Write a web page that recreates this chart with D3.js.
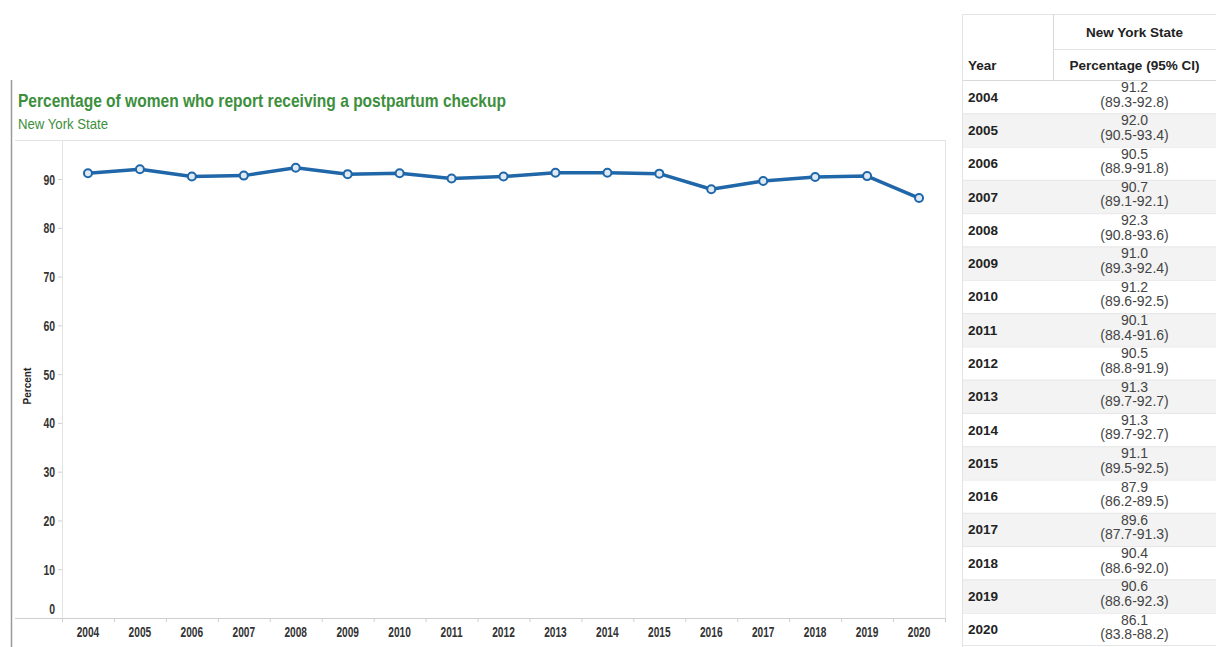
<!DOCTYPE html>
<html>
<head>
<meta charset="utf-8">
<script src="https://cdn.jsdelivr.net/npm/d3@7"></script>
<style>
  body { margin: 0; background: #fff; }
  svg { display: block; }
  .narrow { font-family: "Liberation Sans Narrow", "Arial Narrow", "Liberation Sans", Arial, sans-serif; }
  .sans { font-family: "Liberation Sans", Arial, sans-serif; }
</style>
</head>
<body>
<div id="chart"></div>
<script>
// Chart data
const years = ["2004", "2005", "2006", "2007", "2008", "2009", "2010", "2011", "2012",
  "2013", "2014", "2015", "2016", "2017", "2018", "2019", "2020"];
const percent = [91.2, 92.0, 90.5, 90.7, 92.3, 91.0, 91.2, 90.1, 90.5, 91.3, 91.3, 91.1, 87.9, 89.6, 90.4, 90.6, 86.1];
const ciLow = [89.3, 90.5, 88.9, 89.1, 90.8, 89.3, 89.6, 88.4, 88.8, 89.7, 89.7, 89.5, 86.2, 87.7, 88.6, 88.6, 83.8];
const ciHigh = [92.8, 93.4, 91.8, 92.1, 93.6, 92.4, 92.5, 91.6, 91.9, 92.7, 92.7, 92.5, 89.5, 91.3, 92.0, 92.3, 88.2];
const yTicks = [0, 10, 20, 30, 40, 50, 60, 70, 80, 90];

const WIDTH = 1216;
const HEIGHT = 647;
const GREEN = "#3d8f3d";
const BLUE = "#1f67a8";

const svg = d3.select("#chart")
  .append("svg")
  .attr("width", WIDTH)
  .attr("height", HEIGHT);

// squeeze text to look like a condensed face (no Arial Narrow here)
function condense(sel, k) {
  sel.each(function () {
    const w = this.getComputedTextLength();
    d3.select(this).attr("textLength", w * k).attr("lengthAdjust", "spacingAndGlyphs");
  });
}

// Plot frame
const plot = { left: 62, right: 945, top: 140, bottom: 618 };

const x = d3.scaleBand().domain(years).range([plot.left, plot.right]);
const y = d3.scaleLinear().domain([0, 98]).range([plot.bottom, plot.top]);

// outer left rule of the worksheet
svg.append("line")
  .attr("x1", 11.5).attr("x2", 11.5).attr("y1", 80).attr("y2", HEIGHT)
  .attr("stroke", "#9a9a9a").attr("stroke-width", 1.5);

// Title
svg.append("text")
  .attr("class", "narrow")
  .attr("x", 18).attr("y", 107)
  .attr("font-size", 19).attr("font-weight", "bold")
  .attr("fill", GREEN)
  .text("Percentage of women who report receiving a postpartum checkup")
  .attr("textLength", 488).attr("lengthAdjust", "spacingAndGlyphs");

svg.append("text")
  .attr("class", "narrow")
  .attr("x", 18).attr("y", 129)
  .attr("font-size", 15)
  .attr("fill", GREEN)
  .text("New York State")
  .attr("textLength", 90).attr("lengthAdjust", "spacingAndGlyphs");

// frame lines
svg.append("line")
  .attr("x1", 15).attr("x2", plot.right).attr("y1", plot.top + 0.5).attr("y2", plot.top + 0.5)
  .attr("stroke", "#e3e3e3");
svg.append("line")
  .attr("x1", plot.right + 0.5).attr("x2", plot.right + 0.5).attr("y1", plot.top).attr("y2", plot.bottom)
  .attr("stroke", "#e3e3e3");
svg.append("line")
  .attr("x1", plot.left + 0.5).attr("x2", plot.left + 0.5).attr("y1", plot.top).attr("y2", plot.bottom)
  .attr("stroke", "#e3e3e3");

// Y axis
const yAxis = svg.append("g")
  .attr("class", "narrow")
  .attr("transform", "translate(" + plot.left + ",0)")
  .call(d3.axisLeft(y).tickValues(yTicks).tickSize(4).tickPadding(3));
yAxis.select(".domain").remove();
yAxis.selectAll(".tick line").attr("stroke", "#d0d0d0");
yAxis.selectAll(".tick text")
  .attr("font-size", 14.5).attr("font-weight", "bold").attr("fill", "#333")
  .attr("dy", (d) => (d === 0 ? "-0.3em" : "0.35em"))
  .call(condense, 0.72);

svg.append("text")
  .attr("class", "sans")
  .attr("transform", "translate(31," + (y(50) + 12) + ") rotate(-90)")
  .attr("text-anchor", "middle")
  .attr("font-size", 10).attr("font-weight", "bold").attr("fill", "#222")
  .text("Percent");

// X axis
svg.append("line")
  .attr("x1", 15).attr("x2", plot.right).attr("y1", plot.bottom + 0.5).attr("y2", plot.bottom + 0.5)
  .attr("stroke", "#cfcfcf");

const xg = svg.append("g").attr("class", "narrow");
xg.selectAll("line")
  .data(years.concat(["end"]))
  .enter()
  .append("line")
  .attr("x1", (d, i) => plot.left + i * x.step() + 0.5)
  .attr("x2", (d, i) => plot.left + i * x.step() + 0.5)
  .attr("y1", plot.bottom).attr("y2", plot.bottom + 4)
  .attr("stroke", "#cfcfcf");
xg.selectAll("text")
  .data(years)
  .enter()
  .append("text")
  .attr("x", (d) => x(d) + x.bandwidth() / 2)
  .attr("y", 637)
  .attr("text-anchor", "middle")
  .attr("font-size", 14.5).attr("font-weight", "bold").attr("fill", "#333")
  .text((d) => d)
  .call(condense, 0.7);

// Line
const line = d3.line()
  .x((d, i) => x(years[i]) + x.bandwidth() / 2)
  .y((d) => y(d));

svg.append("path")
  .datum(percent)
  .attr("d", line)
  .attr("fill", "none")
  .attr("stroke", BLUE)
  .attr("stroke-width", 3.5)
  .attr("stroke-linejoin", "round");

svg.append("g")
  .selectAll("circle")
  .data(percent)
  .enter()
  .append("circle")
  .attr("cx", (d, i) => x(years[i]) + x.bandwidth() / 2)
  .attr("cy", (d) => y(d))
  .attr("r", 4)
  .attr("fill", "#dfeaf5")
  .attr("stroke", BLUE)
  .attr("stroke-width", 2);

// Table
const tbl = { left: 962, right: WIDTH, top: 14, head1: 49, head2: 80, colSplit: 1053 };
const rowY = d3.scaleBand().domain(years).range([tbl.head2, HEIGHT - 1]);
const valueX = (tbl.colSplit + tbl.right) / 2;

const tg = svg.append("g").attr("class", "sans");

tg.selectAll("rect")
  .data(years)
  .enter()
  .append("rect")
  .attr("x", tbl.left).attr("y", (d) => rowY(d))
  .attr("width", tbl.right - tbl.left).attr("height", rowY.bandwidth())
  .attr("fill", (d, i) => (i % 2 ? "#f3f3f3" : "#fff"));

tg.selectAll("line.row")
  .data(years)
  .enter()
  .append("line")
  .attr("class", "row")
  .attr("x1", tbl.left).attr("x2", tbl.right)
  .attr("y1", (d) => rowY(d) + 0.5).attr("y2", (d) => rowY(d) + 0.5)
  .attr("stroke", "#e6e6e6");

tg.append("line")
  .attr("x1", tbl.left).attr("x2", tbl.right)
  .attr("y1", HEIGHT - 1.5).attr("y2", HEIGHT - 1.5)
  .attr("stroke", "#e6e6e6");
tg.append("line")
  .attr("x1", tbl.left).attr("x2", tbl.right)
  .attr("y1", tbl.top + 0.5).attr("y2", tbl.top + 0.5)
  .attr("stroke", "#e3e3e3");
tg.append("line")
  .attr("x1", tbl.colSplit).attr("x2", tbl.right)
  .attr("y1", tbl.head1 + 0.5).attr("y2", tbl.head1 + 0.5)
  .attr("stroke", "#e3e3e3");
tg.append("line")
  .attr("x1", tbl.left).attr("x2", tbl.right)
  .attr("y1", tbl.head2 + 0.5).attr("y2", tbl.head2 + 0.5)
  .attr("stroke", "#d8d8d8");
tg.append("line")
  .attr("x1", tbl.left + 0.5).attr("x2", tbl.left + 0.5)
  .attr("y1", tbl.top).attr("y2", HEIGHT)
  .attr("stroke", "#e3e3e3");
tg.append("line")
  .attr("x1", tbl.colSplit + 0.5).attr("x2", tbl.colSplit + 0.5)
  .attr("y1", tbl.top).attr("y2", tbl.head2)
  .attr("stroke", "#d8d8d8");

tg.append("text")
  .attr("x", valueX).attr("y", 37)
  .attr("text-anchor", "middle")
  .attr("font-size", 13.5).attr("font-weight", "bold").attr("fill", "#222")
  .text("New York State");
tg.append("text")
  .attr("x", valueX).attr("y", 70)
  .attr("text-anchor", "middle")
  .attr("font-size", 13.5).attr("font-weight", "bold").attr("fill", "#222")
  .text("Percentage (95% CI)");
tg.append("text")
  .attr("x", 968).attr("y", 70)
  .attr("font-size", 13.5).attr("font-weight", "bold").attr("fill", "#222")
  .text("Year");

tg.selectAll("text.year")
  .data(years)
  .enter()
  .append("text")
  .attr("class", "year")
  .attr("x", 968)
  .attr("y", (d) => rowY(d) + rowY.bandwidth() / 2 + 5)
  .attr("font-size", 13.5).attr("font-weight", "bold").attr("fill", "#222")
  .text((d) => d);

tg.selectAll("text.val")
  .data(percent)
  .enter()
  .append("text")
  .attr("class", "val")
  .attr("x", valueX)
  .attr("y", (d, i) => rowY(years[i]) + 12)
  .attr("text-anchor", "middle")
  .attr("font-size", 14).attr("fill", "#444")
  .text((d) => d.toFixed(1));

tg.selectAll("text.ci")
  .data(percent)
  .enter()
  .append("text")
  .attr("class", "ci")
  .attr("x", valueX)
  .attr("y", (d, i) => rowY(years[i]) + 26.5)
  .attr("text-anchor", "middle")
  .attr("font-size", 14).attr("fill", "#444")
  .text((d, i) => "(" + ciLow[i].toFixed(1) + "-" + ciHigh[i].toFixed(1) + ")");
</script>
</body>
</html>
